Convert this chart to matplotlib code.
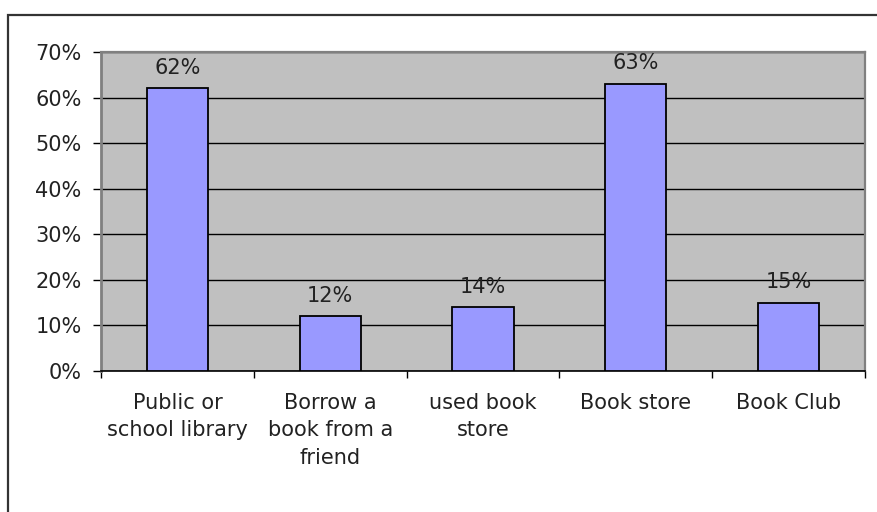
import matplotlib
matplotlib.use('Agg')
import matplotlib.pyplot as plt
import matplotlib.patches as patches
from matplotlib.ticker import FuncFormatter

categories = ["Public or\nschool library", "Borrow a\nbook from a\nfriend", "used book\nstore",
              "Book store", "Book Club"]
values = [62, 12, 14, 63, 15]
y_ticks = [0, 10, 20, 30, 40, 50, 60, 70]

plt.rcParams['font.family'] = ['DejaVu Sans']
text_color = '#222222'
fs = 15

fig = plt.figure(figsize=(8.78, 5.12), dpi=100, facecolor='white')
ax = fig.add_axes([101/878, 1-371/512, 764/878, 319/512])

# outer frame of the original chart object (runs off the bottom and right)
fig.patches.append(patches.Rectangle((8/878, -0.1), 1.2, (512-15)/512 + 0.1,
                                     transform=fig.transFigure, fill=False,
                                     ec='#333333', lw=1.6, zorder=0))

x = list(range(len(categories)))
ax.set_facecolor('#C0C0C0')
ax.bar(x, values, width=0.4, color='#9999FF', edgecolor='black', lw=1.3, zorder=3)

ax.set_xlim(-0.5, len(categories) - 0.5)
ax.set_ylim(0, 70)
ax.set_yticks(y_ticks)
ax.yaxis.set_major_formatter(FuncFormatter(lambda v, p: f"{int(v)}%"))
ax.yaxis.grid(True, color='black', lw=1.0, zorder=1)
ax.set_axisbelow(True)

ax.set_xticks(x)
ax.set_xticklabels(categories, linespacing=1.45)
ax.set_xticks([i - 0.5 for i in range(len(categories) + 1)], minor=True)
ax.tick_params(axis='x', which='major', length=0, pad=16, labelsize=fs, labelcolor=text_color)
ax.tick_params(axis='x', which='minor', length=5, width=1, color='black', direction='out')
ax.tick_params(axis='y', length=6, width=1, color='black', pad=8, labelsize=fs, labelcolor=text_color)

for side in ['top', 'right']:
    ax.spines[side].set_color('#808080')
    ax.spines[side].set_linewidth(1.6)
ax.spines['left'].set_color('#808080')
ax.spines['left'].set_linewidth(2)
ax.spines['bottom'].set_color('black')
ax.spines['bottom'].set_linewidth(1.2)

for xi, v in zip(x, values):
    ax.annotate(f"{v}%", (xi, v), xytext=(0, 7.5), textcoords='offset points',
                ha='center', va='bottom', fontsize=fs, color=text_color, zorder=4)

fig.savefig('out.png', dpi=100)
